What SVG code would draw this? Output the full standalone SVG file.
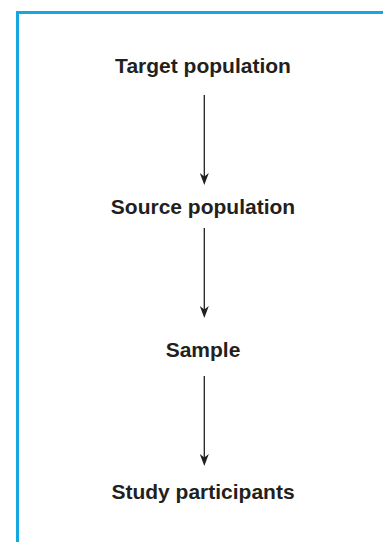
<svg xmlns="http://www.w3.org/2000/svg" width="383" height="542" viewBox="0 0 383 542">
<defs>
<style>
.lbl{font-family:"Liberation Sans",Arial,sans-serif;font-weight:bold;font-size:21px;fill:#231f20;text-anchor:middle}
.conn{stroke:#231f20;stroke-width:1.3;fill:none}
.head{fill:#231f20;stroke:none}
</style>
</defs>
<rect width="383" height="542" fill="#ffffff"/>
<path d="M17.5,542 V12.5 H383" fill="none" stroke="#14a8df" stroke-width="3"/>
<g id="connectors">
<line class="conn" x1="204.3" y1="95" x2="204.3" y2="178"/>
<path class="head" d="M204.3,185 L199.8,173 L204.3,176.5 L208.8,173 Z"/>
<line class="conn" x1="204.3" y1="228" x2="204.3" y2="311"/>
<path class="head" d="M204.3,318 L199.8,306 L204.3,309.5 L208.8,306 Z"/>
<line class="conn" x1="204.3" y1="376" x2="204.3" y2="459"/>
<path class="head" d="M204.3,466 L199.8,454 L204.3,457.5 L208.8,454 Z"/>
</g>
<g id="target"><text class="lbl" x="203" y="73">Target population</text></g>
<g id="source"><text class="lbl" x="203" y="214">Source population</text></g>
<g id="sample"><text class="lbl" x="203" y="357">Sample</text></g>
<g id="study"><text class="lbl" x="203" y="499">Study participants</text></g>
</svg>
